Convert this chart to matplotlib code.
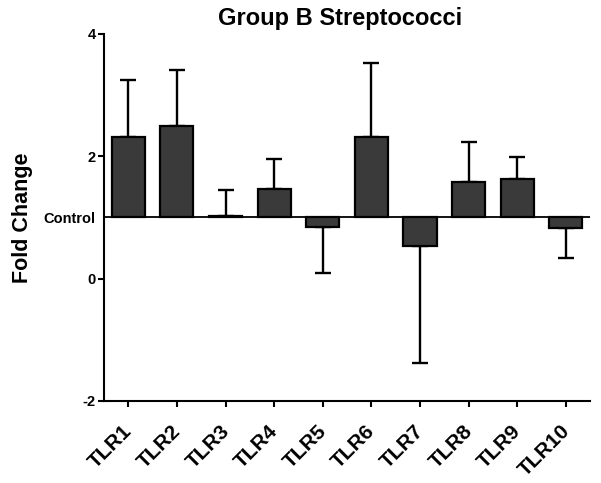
import matplotlib
matplotlib.use("Agg")
import matplotlib.pyplot as plt
import matplotlib.transforms as mtransforms
import numpy as np

plt.rcParams['font.family'] = ['Liberation Sans', 'DejaVu Sans']

categories = ["TLR1", "TLR2", "TLR3", "TLR4", "TLR5", "TLR6", "TLR7", "TLR8", "TLR9", "TLR10"]
values = [2.32, 2.50, 1.03, 1.47, 0.84, 2.32, 0.53, 1.57, 1.63, 0.82]
err_ends = [3.25, 3.41, 1.44, 1.96, 0.09, 3.52, -1.38, 2.23, 1.98, 0.33]
control = 1.0
ytick_vals = [-2, 0, 1, 2, 4]
ytick_labels = ["-2", "0", "Control", "2", "4"]

fig = plt.figure(figsize=(6.01, 4.83), dpi=100)
ax = fig.add_axes([0.173, 0.170, 0.809, 0.760])

x = np.arange(len(categories))
vals = np.array(values)
ends = np.array(err_ends)
heights = vals - control
ax.bar(x, heights, bottom=control, width=0.68, color="#3a3a3a",
       edgecolor="black", linewidth=1.6, zorder=3)

up = np.where(ends > vals, ends - vals, 0)
down = np.where(ends < vals, vals - ends, 0)
ax.errorbar(x, vals, yerr=[down, up], fmt="none", ecolor="black",
            elinewidth=1.7, capsize=6, capthick=1.7, zorder=2)

ax.axhline(control, color="black", linewidth=1.3, zorder=4)

ax.set_xlim(-0.5, 9.5)
ax.set_ylim(-2, 4)
ax.set_yticks(ytick_vals)
ax.set_yticklabels(ytick_labels, fontweight="bold", fontsize=10.5)
ax.set_xticks(x)
ax.set_xticklabels(categories, rotation=45, ha="right", rotation_mode="anchor",
                   fontweight="bold", fontsize=15)
ax.tick_params(axis="x", direction="out", length=4, width=1.5, pad=11)
ax.tick_params(axis="y", direction="out", length=4, width=1.5, pad=2)

offset = mtransforms.ScaledTranslation(-6 / 100, 0, fig.dpi_scale_trans)
for lbl in ax.get_xticklabels():
    lbl.set_transform(lbl.get_transform() + offset)

for side in ["top", "right"]:
    ax.spines[side].set_visible(False)
for side in ["left", "bottom"]:
    ax.spines[side].set_linewidth(1.5)

# hide tick mark for Control label
ax.yaxis.get_major_ticks()[2].tick1line.set_visible(False)

ax.set_ylabel("Fold Change", fontweight="bold", fontsize=15.5, labelpad=8)
ax.set_title("Group B Streptococci", fontweight="bold", fontsize=17, pad=6,
             x=0.485)

fig.savefig("out.png", dpi=100)
